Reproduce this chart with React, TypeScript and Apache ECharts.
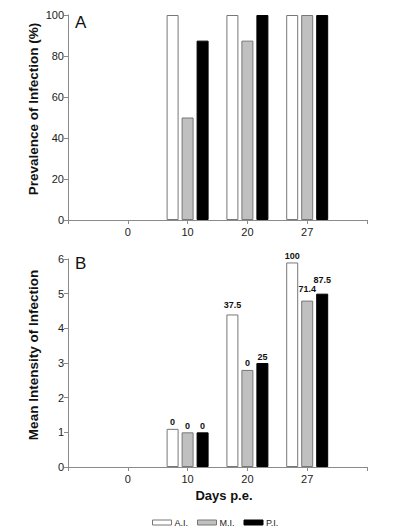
import React, { useEffect, useRef } from 'react';
import * as echarts from 'echarts';

const days = ['0', '10', '20', '27'];
const seriesNames = ['A.I.', 'M.I.', 'P.I.'];
const prevAI = [0, 100, 100, 100];
const prevMI = [0, 50, 87.5, 100];
const prevPI = [0, 87.5, 100, 100];
const intAI = [0, 1.1, 4.4, 5.9];
const intMI = [0, 1.0, 2.8, 4.8];
const intPI = [0, 1.0, 3.0, 5.0];
const labAI = ['', '0', '37.5', '100'];
const labMI = ['', '0', '0', '71.4'];
const labPI = ['', '0', '25', '87.5'];
const prevTicks = [0, 20, 40, 60, 80, 100];
const intTicks = [0, 1, 2, 3, 4, 5, 6];
const prevTitle = 'Prevalence of Infection (%)';
const intTitle = 'Mean Intensity of Infection';
const xTitle = 'Days p.e.';

// label lift above bar (layout only)
const liftAI = [2, 2, 5, 2];
const liftMI = [2, 2, 2, 7];
const liftPI = [2, 2, 2, 9];

const FONT = '"Liberation Sans", Arial, Helvetica, sans-serif';
const AXIS = '#8a8a8a';
const fills = ['#ffffff', '#c0c0c0', '#000000'];
const borders = ['#777777', '#777777', '#000000'];

const cats = ['', ...days, ''];
const pad = (arr: any[]) => [null, ...arr, null];

export default function App() {
  const ref = useRef<HTMLDivElement>(null);
  useEffect(() => {
    if (!ref.current) return;
    const chart = echarts.init(ref.current, undefined, { renderer: 'svg' });
    const xAxisBase = (gridIndex: number) => ({
      type: 'category',
      gridIndex,
      data: cats,
      boundaryGap: false,
      axisLine: { lineStyle: { color: AXIS, width: 1 } },
      axisTick: { show: true, interval: 0, length: 4, lineStyle: { color: AXIS } },
      axisLabel: { interval: 0, color: '#222', fontSize: 11, fontFamily: FONT, margin: 6 },
      splitLine: { show: false },
    });
    const yAxisBase = (gridIndex: number, max: number, interval: number) => ({
      type: 'value',
      gridIndex,
      min: 0,
      max,
      interval,
      axisLine: { show: true, lineStyle: { color: AXIS, width: 1 } },
      axisTick: { show: true, length: 4, lineStyle: { color: AXIS } },
      axisLabel: { color: '#222', fontSize: 11, fontFamily: FONT, margin: 4 },
      splitLine: { show: false },
    });
    const prevData = [prevAI, prevMI, prevPI];
    const intData = [intAI, intMI, intPI];
    const labs = [labAI, labMI, labPI];
    const lifts = [liftAI, liftMI, liftPI];
    const series: any[] = [];
    seriesNames.forEach((n, i) => {
      series.push({
        name: n,
        type: 'bar',
        xAxisIndex: 0,
        yAxisIndex: 0,
        barWidth: 12,
        barGap: '25%',
        itemStyle: { color: fills[i], borderColor: borders[i], borderWidth: 1 },
        data: pad(prevData[i].map((v) => (v === 0 ? null : v))),
      });
    });
    seriesNames.forEach((n, i) => {
      series.push({
        name: n,
        type: 'bar',
        xAxisIndex: 1,
        yAxisIndex: 1,
        barWidth: 12,
        barGap: '25%',
        itemStyle: { color: fills[i], borderColor: borders[i], borderWidth: 1 },
        data: pad(
          intData[i].map((v, j) =>
            v === 0
              ? null
              : {
                  value: v,
                  label: {
                    show: true,
                    position: 'top',
                    distance: lifts[i][j],
                    formatter: labs[i][j],
                    fontSize: 9,
                    fontWeight: 'bold',
                    fontFamily: FONT,
                    color: '#111',
                  },
                }
          )
        ),
      });
    });
    const nameStyle = { fontSize: 13.5, fontWeight: 'bold', fontFamily: FONT, fill: '#111', align: 'center', verticalAlign: 'middle' };
    chart.setOption({
      animation: false,
      backgroundColor: '#ffffff',
      grid: [
        { left: 68, right: 28, top: 15, height: 205 },
        { left: 68, right: 28, top: 259, height: 208 },
      ],
      xAxis: [xAxisBase(0), xAxisBase(1)],
      yAxis: [
        yAxisBase(0, prevTicks[prevTicks.length - 1], prevTicks[1] - prevTicks[0]),
        yAxisBase(1, intTicks[intTicks.length - 1], intTicks[1] - intTicks[0]),
      ],
      legend: {
        data: seriesNames.map((n) => ({ name: n, icon: 'rect' })),
        left: 147,
        top: 513,
        itemWidth: 19,
        itemHeight: 5,
        itemGap: 9,
        textStyle: { fontSize: 9, fontFamily: FONT, color: '#222', padding: [0, 0, 0, -2] },
        itemStyle: { borderWidth: 1 },
        selectedMode: false,
      },
      graphic: [
        { type: 'text', left: 75, top: 14, style: { text: 'A', fontSize: 17, fontFamily: FONT, fill: '#111' } },
        { type: 'text', left: 75, top: 255, style: { text: 'B', fontSize: 17, fontFamily: FONT, fill: '#111' } },
        { type: 'text', x: 33, y: 109, rotation: Math.PI / 2, style: { text: prevTitle, ...nameStyle } },
        { type: 'text', x: 33, y: 355, rotation: Math.PI / 2, style: { text: intTitle, ...nameStyle } },
        { type: 'text', x: 224, y: 495, style: { text: xTitle, ...nameStyle, fontSize: 13 } },
      ],
      series,
    });
    return () => chart.dispose();
  }, []);
  return <div ref={ref} style={{ width: 395, height: 527, position: 'absolute', left: 0, top: 0 }} />;
}
